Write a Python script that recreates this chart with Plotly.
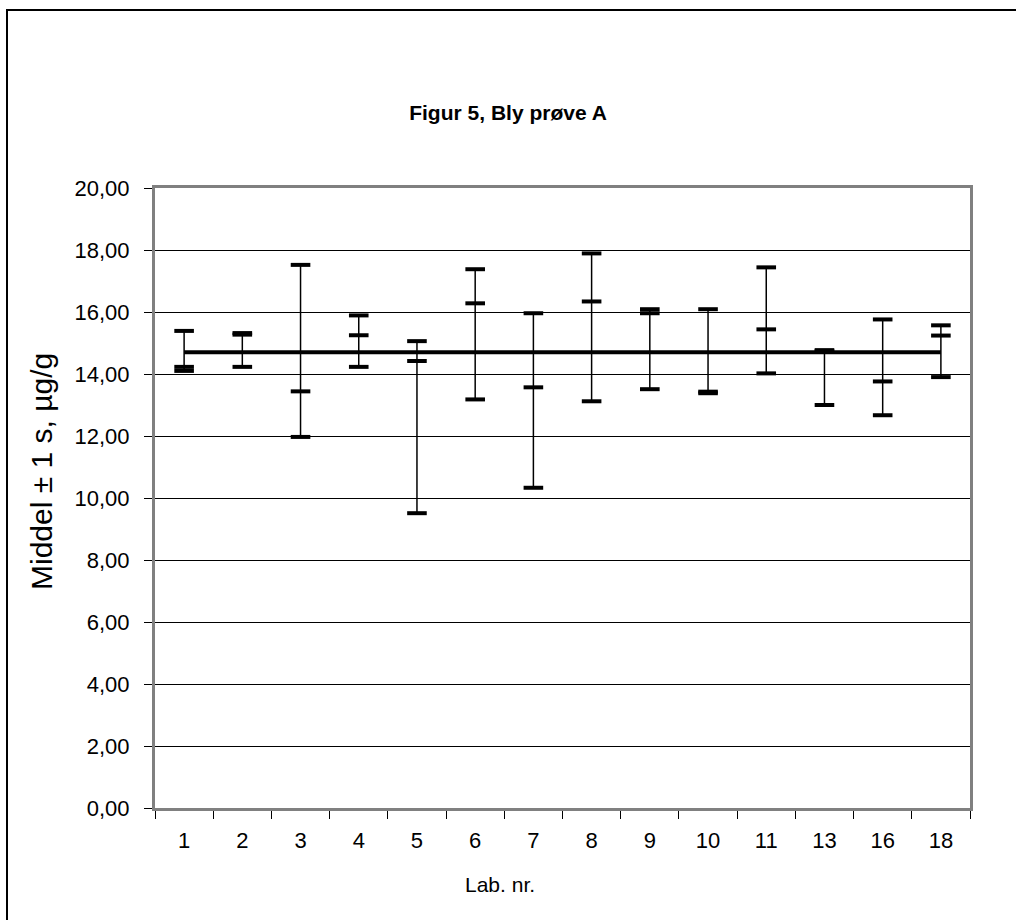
import plotly.graph_objects as go

labs = ["1", "2", "3", "4", "5", "6", "7", "8", "9", "10", "11", "13", "16", "18"]
high = [15.39, 15.32, 17.52, 15.89, 15.06, 17.38, 15.96, 17.89, 16.09, 16.09, 17.44, 14.77, 15.76, 15.57]
mid = [14.23, 15.27, 13.44, 15.25, 14.42, 16.28, 13.57, 16.34, 15.96, 13.43, 15.44, 14.74, 13.76, 15.24]
low = [14.10, 14.23, 11.97, 14.23, 9.51, 13.18, 10.33, 13.12, 13.51, 13.38, 14.02, 13.00, 12.67, 13.90]
mean_line = [14.70, 14.70, 14.70, 14.70, 14.70, 14.70, 14.70, 14.70, 14.70, 14.70, 14.70, 14.70, 14.70, 14.70]

FONT = "Liberation Sans, Arial, sans-serif"

fig = go.Figure()

# vertical high-low lines
vx, vy = [], []
for lab, lo, hi, md in zip(labs, low, high, mid):
    vx += [lab, lab, None]
    vy += [min(lo, hi, md), max(lo, hi, md), None]
fig.add_trace(go.Scatter(x=vx, y=vy, mode="lines", line=dict(color="black", width=1.5),
                         showlegend=False, hoverinfo="skip"))

# mean line
fig.add_trace(go.Scatter(x=labs, y=mean_line, mode="lines", line=dict(color="black", width=4),
                         showlegend=False))

# tick markers
for series in (high, mid, low):
    fig.add_trace(go.Scatter(x=labs, y=series, mode="markers",
                             marker=dict(symbol="line-ew", size=14,
                                         line=dict(color="black", width=4)),
                             showlegend=False))

fig.update_layout(
    width=1016, height=920,
    margin=dict(l=155, r=46, t=188, b=112),
    paper_bgcolor="white", plot_bgcolor="white",
    separators=", ",
    font=dict(family=FONT, color="black", size=22),
    title=dict(text="<b>Figur 5, Bly prøve A</b>", x=0.5, xref="container",
               y=1 - 113 / 920, yref="container", xanchor="center", yanchor="middle",
               font=dict(family=FONT, size=21, color="black")),
    xaxis=dict(type="category", categoryorder="array", categoryarray=labs,
               tickson="boundaries", ticks="outside", ticklen=8, tickcolor="black", tickwidth=1,
               showline=True, linecolor="#808080", linewidth=3, mirror=True,
               showgrid=False, tickfont=dict(size=22), range=[-0.5, 13.5],
               ticklabelstandoff=11),
    yaxis=dict(range=[0, 20], dtick=2, tickformat=".2f", ticks="outside", ticklen=8,
               tickcolor="black", tickwidth=1,
               showline=True, linecolor="#808080", linewidth=3, mirror=True,
               showgrid=True, gridcolor="black", gridwidth=1, zeroline=False,
               tickfont=dict(size=22), ticklabelstandoff=10),
    shapes=[dict(type="rect", xref="paper", yref="paper",
                 x0=(7 - 155) / 815, x1=1.2, y0=-0.3, y1=(808 - 10) / 620,
                 line=dict(color="black", width=2), layer="below")],
    annotations=[
        dict(text="Lab. nr.", xref="paper", yref="paper", x=(500 - 155) / 815,
             y=(808 - 884) / 620, showarrow=False, xanchor="center", yanchor="middle",
             font=dict(family=FONT, size=21, color="black")),
        dict(text="Middel ± 1 s, µg/g", xref="paper", yref="paper", x=(42 - 155) / 815,
             y=(808 - 472) / 620, showarrow=False, xanchor="center", yanchor="middle",
             textangle=-90, font=dict(family=FONT, size=30, color="black")),
    ],
)

fig.write_html("out.html")
